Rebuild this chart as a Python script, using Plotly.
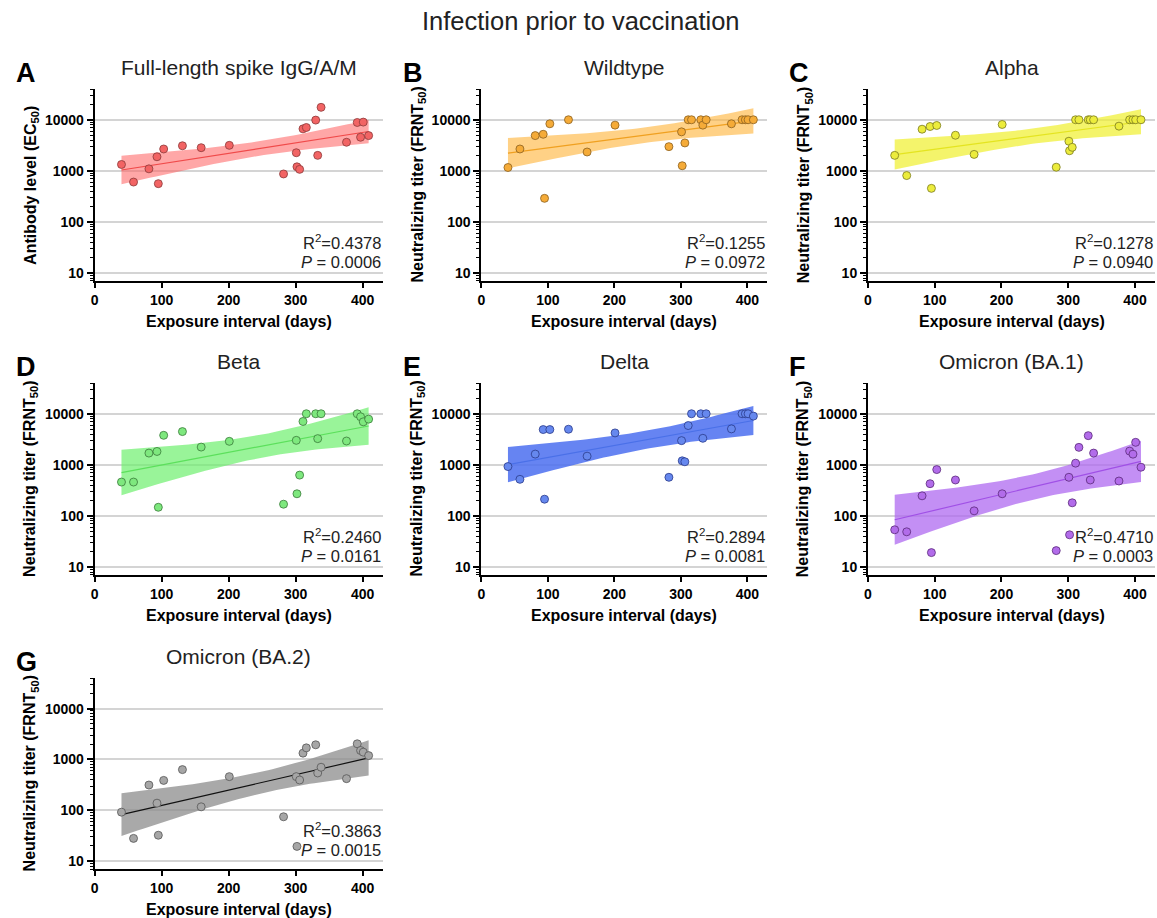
import numpy as np
import plotly.graph_objects as go

# ---------------- data ----------------
days = [40, 58, 81, 93, 95, 103, 131, 159, 201, 282, 301, 302, 306, 311, 316,
        330, 333, 338, 376, 392, 397, 401, 409]

igg = [1334, 604, 1096, 1888, 562, 2680, 3100, 2840, 3160, 870, 2265, 1200, 1070,
       6640, 7060, 9850, 2010, 17500, 3630, 8850, 4550, 9000, 4900]
wildtype = [1164, 2680, 4900, 5200, 290, 8340, 10000, 2340, 7850, 2980, 5800, 1260, 3520,
            10000, 10000, 10000, 7850, 10000, 8340, 10000, 10000, 10000, 10000]
alpha = [2010, 810, 6540, 7380, 455, 7730, 4980, 2100, 8090, 1180, 3800, 2480, 2890,
         10000, 10000, 10000, 10000, 10000, 7500, 10000, 10000, 10000, 10000]
beta = [461, 461, 1700, 1830, 148, 3790, 4480, 2230, 2890, 170, 3020, 272, 630,
        7060, 10000, 10000, 3260, 10000, 2930, 10000, 8730, 6950, 7850]
delta = [927, 521, 1625, 4910, 213, 4910, 4980, 1480, 4220, 571, 2980, 1200, 1150,
         5880, 10000, 10000, 3310, 10000, 5060, 10000, 10000, 10000, 9000]
ba1 = [53.7, 49, 248, 428, 19.2, 809, 506, 126, 272, 21, 571, 42.8, 181,
       1080, 2200, 3730, 506, 1700, 483, 1860, 1620, 2760, 900]
ba2 = [91.8, 28, 314, 138, 32.3, 387, 631, 117, 459, 74.5, 459, 19.5, 394,
       1330, 1690, 1940, 542, 702, 419, 2030, 1500, 1390, 1190]

panel_titles = ["Full-length spike IgG/A/M", "Wildtype", "Alpha", "Beta", "Delta",
                "Omicron (BA.1)", "Omicron (BA.2)"]
panel_letters = ["A", "B", "C", "D", "E", "F", "G"]
r2_values = ["0.4378", "0.1255", "0.1278", "0.2460", "0.2894", "0.4710", "0.3863"]
p_values = ["0.0006", "0.0972", "0.0940", "0.0161", "0.0081", "0.0003", "0.0015"]
y_titles = ["Antibody level (EC<sub>50</sub>)"] + ["Neutralizing titer (FRNT<sub>50</sub>)"] * 6
x_title = "Exposure interval (days)"
main_title = "Infection prior to vaccination"
y_ticks = [10, 100, 1000, 10000]
x_ticks = [0, 100, 200, 300, 400]

series = [igg, wildtype, alpha, beta, delta, ba1, ba2]

marker_colors = ["#F26464", "#F5AB38", "#ECEC3C", "#7EE87E", "#6688EE", "#B26CEA", "#A6A6A6"]
line_colors = ["#F04A4A", "#F0A020", "#E4E420", "#5CE05C", "#4A70E8", "#A050E6", "#111111"]
band_colors = ["rgba(255,95,95,0.55)", "rgba(255,180,60,0.62)", "rgba(240,240,50,0.72)",
               "rgba(110,240,110,0.7)", "rgba(75,110,240,0.85)", "rgba(175,105,240,0.75)",
               "rgba(140,140,140,0.75)"]
edge_colors = ["#8a3a3a", "#8a6020", "#7a7a20", "#3a7a3a", "#2a3a8a", "#5a2a7a", "#555555"]

FONT = "Liberation Sans, Arial, sans-serif"

# ---------------- layout geometry (pixels) ----------------
W, H = 1157, 918
cols = [(91, 380), (479, 766), (867, 1155)]
rows = [(89, 281), (383, 575), (678, 869)]
positions = [(0, 0), (0, 1), (0, 2), (1, 0), (1, 1), (1, 2), (2, 0)]

fig = go.Figure()
annotations = []
T_CRIT = 2.0796  # t(0.975, df=21)

x_arr = np.array(days, dtype=float)
for i, yvals in enumerate(series):
    r, c = positions[i]
    xa = "x" if i == 0 else f"x{i+1}"
    ya = "y" if i == 0 else f"y{i+1}"
    ly = np.log10(np.array(yvals, dtype=float))
    n = len(x_arr)
    slope, intercept = np.polyfit(x_arr, ly, 1)
    resid = ly - (slope * x_arr + intercept)
    s = np.sqrt(np.sum(resid ** 2) / (n - 2))
    xbar = x_arr.mean()
    sxx = np.sum((x_arr - xbar) ** 2)
    xs = np.linspace(x_arr.min(), x_arr.max(), 60)
    fit = slope * xs + intercept
    half = T_CRIT * s * np.sqrt(1.0 / n + (xs - xbar) ** 2 / sxx)
    upper = 10 ** (fit + half)
    lower = 10 ** (fit - half)
    fig.add_trace(go.Scatter(
        x=np.concatenate([xs, xs[::-1]]), y=np.concatenate([upper, lower[::-1]]),
        fill="toself", fillcolor=band_colors[i], line=dict(width=0),
        mode="lines", hoverinfo="skip", showlegend=False, xaxis=xa, yaxis=ya))
    fig.add_trace(go.Scatter(
        x=xs, y=10 ** fit, mode="lines", line=dict(color=line_colors[i], width=1.2),
        showlegend=False, xaxis=xa, yaxis=ya))
    fig.add_trace(go.Scatter(
        x=days, y=yvals, mode="markers",
        marker=dict(size=8, color=marker_colors[i], line=dict(color=edge_colors[i], width=0.8)),
        showlegend=False, xaxis=xa, yaxis=ya))

    x0, x1 = cols[c]
    y0, y1 = rows[r]
    xdom = [x0 / W, x1 / W]
    ydom = [1 - y1 / H, 1 - y0 / H]
    xkey = "xaxis" if i == 0 else f"xaxis{i+1}"
    ykey = "yaxis" if i == 0 else f"yaxis{i+1}"
    fig.layout[xkey] = dict(
        domain=xdom, anchor=ya, range=[0, 430], tickvals=x_ticks, ticks="outside",
        ticklen=5, tickwidth=2, tickcolor="black", showline=True, linewidth=2,
        linecolor="black", showgrid=False, zeroline=False,
        tickfont=dict(family=FONT, size=14, color="black", weight="bold"))
    fig.layout[ykey] = dict(
        domain=ydom, anchor=xa, type="log", range=[0.845, 4.602], tickvals=y_ticks,
        ticktext=[str(v) for v in y_ticks], ticks="outside", ticklen=6, tickwidth=2,
        tickcolor="black", showline=True, linewidth=2, linecolor="black",
        showgrid=True, gridcolor="#d4d4d4", gridwidth=2, zeroline=False,
        minor=dict(ticks="outside", ticklen=3, tickwidth=1, tickcolor="black", dtick="D1", showgrid=False),
        tickfont=dict(family=FONT, size=14, color="black", weight="bold"))

    # subplot title
    annotations.append(dict(
        text=panel_titles[i], x=(x0 + x1) / 2 / W, y=1 - (y0 - 22) / H,
        xref="paper", yref="paper", showarrow=False, xanchor="center", yanchor="middle",
        font=dict(family=FONT, size=21, color="#222")))
    # panel letter
    annotations.append(dict(
        text=f"<b>{panel_letters[i]}</b>", x=(x0 - 81) / W, y=1 - (y0 - 16) / H,
        xref="paper", yref="paper", showarrow=False, xanchor="left", yanchor="middle",
        font=dict(family=FONT, size=27, color="black")))
    # y title
    annotations.append(dict(
        text=f"<b>{y_titles[i]}</b>", x=(x0 - 64) / W, y=1 - ((y0 + y1) / 2) / H,
        xref="paper", yref="paper", showarrow=False, textangle=-90,
        xanchor="center", yanchor="middle",
        font=dict(family=FONT, size=16, color="black")))
    # x title
    annotations.append(dict(
        text=f"<b>{x_title}</b>", x=(x0 + x1) / 2 / W, y=1 - (y1 + 40) / H,
        xref="paper", yref="paper", showarrow=False, xanchor="center", yanchor="middle",
        font=dict(family=FONT, size=16, color="black")))
    # stats
    annotations.append(dict(
        text=f"R<sup>2</sup>={r2_values[i]}", x=x1 / W, y=1 - (y1 - 39) / H,
        xref="paper", yref="paper", showarrow=False, xanchor="right", yanchor="middle",
        font=dict(family=FONT, size=16.5, color="#222")))
    annotations.append(dict(
        text=f"<i>P</i> = {p_values[i]}", x=x1 / W, y=1 - (y1 - 19) / H,
        xref="paper", yref="paper", showarrow=False, xanchor="right", yanchor="middle",
        font=dict(family=FONT, size=16.5, color="#222")))

annotations.append(dict(
    text=main_title, x=0.5, y=1 - 21 / H, xref="paper", yref="paper",
    showarrow=False, xanchor="center", yanchor="middle",
    font=dict(family=FONT, size=25.5, color="#222")))

fig.update_layout(
    width=W, height=H, margin=dict(l=0, r=0, t=0, b=0),
    paper_bgcolor="white", plot_bgcolor="white", annotations=annotations,
    showlegend=False)

fig.write_html("out.html", config={"displayModeBar": False},
               post_script="document.body.style.margin='0px';document.body.style.overflow='hidden';")
